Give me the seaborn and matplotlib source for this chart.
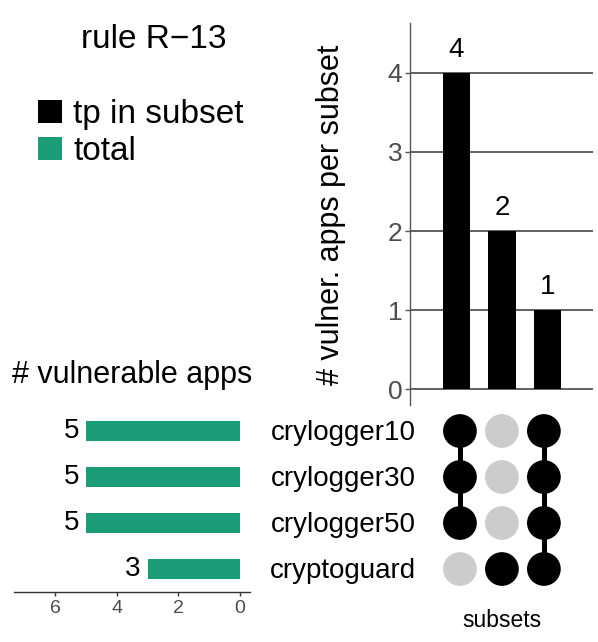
import numpy as np
import pandas as pd
import seaborn as sns
import matplotlib
matplotlib.use("Agg")
import matplotlib.pyplot as plt
from matplotlib.patches import Rectangle

# ---------------- data ----------------
sets = ["crylogger10", "crylogger30", "crylogger50", "cryptoguard"]
set_totals = [5, 5, 5, 3]
subset_ids = ["s1", "s2", "s3"]
subset_counts = [4, 2, 1]
# membership: rows = sets, columns = subsets
membership = [
    [1, 0, 1],
    [1, 0, 1],
    [1, 0, 1],
    [0, 1, 1],
]
title = "rule R\u221213"
legend_labels = ["tp in subset", "total"]

TEAL = "#1b9e77"
GREY_DOT = "#cccccc"
AX_GREY = "#555555"
TICK_GREY = "#4d4d4d"

sns.set_style("white")
plt.rcParams["font.family"] = ["Liberation Sans", "DejaVu Sans"]
plt.rcParams["text.color"] = "black"

W, H = 598, 642
fig = plt.figure(figsize=(W / 100, H / 100), dpi=100)


def fx(x):
    return x / W


def fy(y):
    return 1 - y / H


def rect(x0, y0, x1, y1):
    return [fx(x0), fy(y1), fx(x1) - fx(x0), fy(y0) - fy(y1)]


# ---------------- top: subset sizes ----------------
ax_top = fig.add_axes(rect(410, 23, 593, 405))
df_sub = pd.DataFrame({"subset": subset_ids, "count": subset_counts})
sns.barplot(data=df_sub, x="subset", y="count", color="black", width=0.6,
            saturation=1, linewidth=0, edgecolor="none", ax=ax_top, zorder=3)
ax_top.set_xlim(-1.02, 3.0)
ax_top.set_ylim(-0.2, 4.63)
ax_top.set_yticks([0, 1, 2, 3, 4])
ax_top.yaxis.grid(True, color=AX_GREY, lw=1.3, zorder=0)
ax_top.set_axisbelow(True)
for s in ["top", "right", "bottom"]:
    ax_top.spines[s].set_visible(False)
ax_top.spines["left"].set_color(AX_GREY)
ax_top.spines["left"].set_linewidth(1.0)
ax_top.tick_params(axis="y", left=True, length=3.6, width=1, color=AX_GREY,
                   labelsize=19, labelcolor=TICK_GREY, pad=2)
ax_top.tick_params(axis="x", bottom=False, labelbottom=False)
ax_top.set_xlabel("")
ax_top.set_ylabel("")
for c in ax_top.containers:
    ax_top.bar_label(c, labels=[str(v) for v in subset_counts], padding=7,
                     fontsize=20, color="black")

fig.text(fx(331), fy(215), "# vulner. apps per subset", rotation=90,
         ha="center", va="center", fontsize=22, color="black")

# ---------------- left: set sizes ----------------
ax_left = fig.add_axes(rect(14, 408, 250, 592))
df_set = pd.DataFrame({"set": sets, "total": set_totals})
sns.barplot(data=df_set, x="total", y="set", orient="h", color=TEAL,
            width=0.43, saturation=1, linewidth=0, edgecolor="none", ax=ax_left)
ax_left.set_ylim(3.5, -0.5)
ax_left.set_xlim(7.33, -0.32)
ax_left.set_xticks([6, 4, 2, 0])
for s in ["top", "right", "left"]:
    ax_left.spines[s].set_visible(False)
ax_left.spines["bottom"].set_color("#333333")
ax_left.spines["bottom"].set_linewidth(1.0)
ax_left.tick_params(axis="x", bottom=True, length=3, width=1, color="#333333",
                    labelsize=14, labelcolor=TICK_GREY, pad=3)
ax_left.tick_params(axis="y", left=False, labelleft=False)
ax_left.set_xlabel("")
ax_left.set_ylabel("")
for c in ax_left.containers:
    ax_left.bar_label(c, labels=[str(v) for v in set_totals], padding=5,
                      fontsize=20, color="black")

fig.text(fx(132), fy(383), "# vulnerable apps", ha="center", va="baseline",
         fontsize=22, color="black")

# ---------------- matrix ----------------
ax_mat = fig.add_axes(rect(410, 408, 593, 592))
rows = []
for i, s in enumerate(sets):
    for j, sub in enumerate(subset_ids):
        rows.append({"set": i, "subset": j, "member": bool(membership[i][j])})
df_m = pd.DataFrame(rows)
for j in range(len(subset_ids)):
    mem = df_m[(df_m.subset == j) & df_m.member]["set"]
    if len(mem) > 1:
        ax_mat.plot([j, j], [mem.min(), mem.max()], color="black", lw=3.6,
                    zorder=1, solid_capstyle="butt")
sns.scatterplot(data=df_m, x="subset", y="set", hue="member",
                palette={True: "black", False: GREY_DOT}, s=590,
                linewidth=0, legend=False, ax=ax_mat, zorder=2)
ax_mat.set_xlim(-1.19, 3.17)
ax_mat.set_ylim(3.5, -0.5)
ax_mat.axis("off")

for i, s in enumerate(sets):
    ax_mat.annotate(s, xy=(fx(343), i), xycoords=("figure fraction", "data"),
                    xytext=(0, -9), textcoords="offset pixels",
                    ha="center", va="baseline", fontsize=20, color="black")

fig.text(fx(502), fy(627), "subsets", ha="center", va="baseline",
         fontsize=16.5, color="black")

# ---------------- title & legend ----------------
fig.text(fx(154), fy(48), title, ha="center", va="baseline", fontsize=24,
         color="black")
leg_colors = ["black", TEAL]
leg_y = [(100, 123), (137, 160)]
for col, (y0, y1), lab in zip(leg_colors, leg_y, legend_labels):
    fig.add_artist(Rectangle((fx(38), fy(y1)), fx(62) - fx(38), fy(y0) - fy(y1),
                             transform=fig.transFigure, facecolor=col,
                             edgecolor="none"))
    fig.text(fx(73), fy(y1), lab, ha="left", va="baseline", fontsize=24,
             color="black")

fig.savefig("out.png", dpi=100)
